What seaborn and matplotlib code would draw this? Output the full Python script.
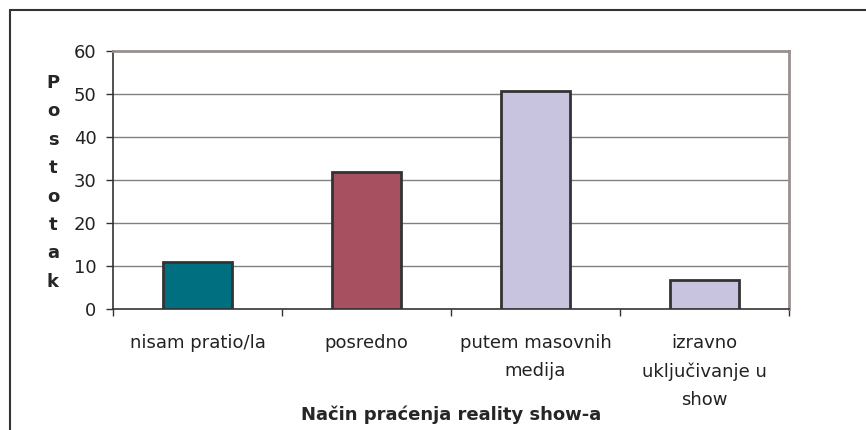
import matplotlib
matplotlib.use("Agg")
import matplotlib.pyplot as plt
import seaborn as sns
from matplotlib.lines import Line2D

categories = ["nisam pratio/la", "posredno", "putem masovnih\nmedija",
              "izravno\nuključivanje u\nshow"]
values = [10.8, 31.7, 50.7, 6.7]
bar_colors = ["#007080", "#a65060", "#c8c4e0", "#c8c4e0"]
y_ticks = [0, 10, 20, 30, 40, 50, 60]

sns.set_style("white")
plt.rcParams["font.family"] = ["DejaVu Sans"]

fig = plt.figure(figsize=(8.66, 4.30), dpi=100)
ax = fig.add_axes([0.1305, 0.282, 0.7805, 0.600])

for y in y_ticks[1:-1]:
    ax.axhline(y, color="#808080", lw=1, zorder=0)

sns.barplot(x=categories, y=values, hue=categories, palette=bar_colors,
            saturation=1, width=0.405, edgecolor="#333333", linewidth=2,
            legend=False, ax=ax, zorder=3)

ax.set_ylim(0, 60)
ax.set_xlim(-0.5, 3.5)
ax.set_yticks(y_ticks)
ax.set_yticklabels([str(v) for v in y_ticks], fontsize=13, color="#222222")
ax.set_xticks(range(len(categories)))
ax.set_xticklabels(categories, fontsize=13, color="#222222", linespacing=1.72)
ax.set_xticks([-0.5, 0.5, 1.5, 2.5, 3.5], minor=True)
ax.tick_params(axis="x", which="major", length=0, pad=18)
ax.tick_params(axis="x", which="minor", length=5, width=1, color="#333333",
               direction="out", bottom=True)
ax.tick_params(axis="y", length=5, width=1, color="#333333", direction="out",
               left=True, pad=7)

for side in ["top", "right"]:
    ax.spines[side].set_color("#9a8f8f")
    ax.spines[side].set_linewidth(2)
for side in ["left", "bottom"]:
    ax.spines[side].set_color("#333333")
    ax.spines[side].set_linewidth(1.2)

ax.set_xlabel("Način praćenja reality show-a", fontsize=13, fontweight="bold",
              va="center")
ax.xaxis.set_label_coords(0.5, -0.41)
ax.set_ylabel("P\no\ns\nt\no\nt\na\nk", rotation=0, fontsize=13,
              fontweight="bold", linespacing=1.74, va="center", ha="center")
ax.yaxis.set_label_coords(-0.0888, 0.49)

# outer chart frame (top and left only)
fig.add_artist(Line2D([10 / 866, 1], [1 - 10 / 430, 1 - 10 / 430],
                      transform=fig.transFigure, color="#333333", lw=1.5))
fig.add_artist(Line2D([10 / 866, 10 / 866], [0, 1 - 10 / 430],
                      transform=fig.transFigure, color="#333333", lw=1.5))

fig.savefig("out.png", dpi=100)
